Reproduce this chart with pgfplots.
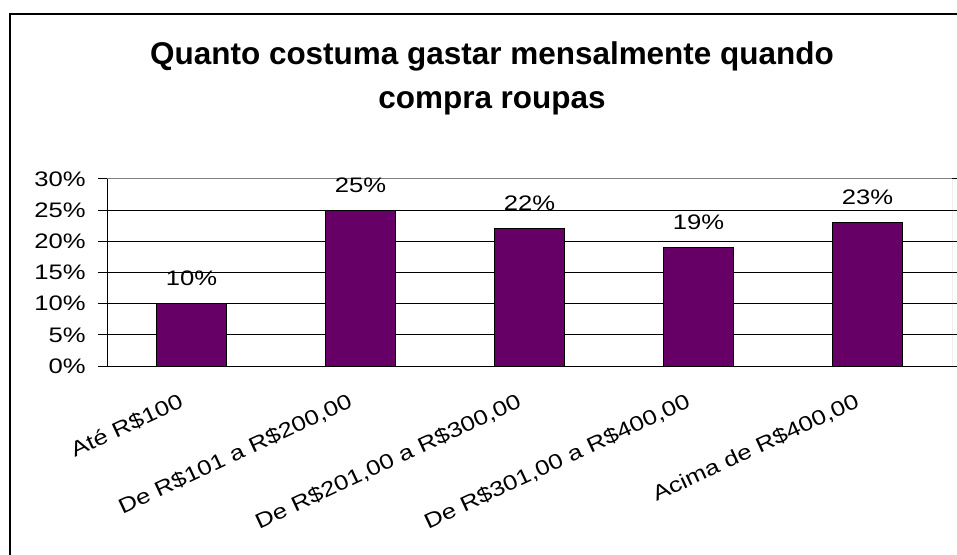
\documentclass[border=0pt]{standalone}
\usepackage{fontspec}
\setmainfont{Liberation Sans}
\newfontfamily\tickfont[FakeStretch=1.22]{Liberation Sans}
\usepackage{pgfplots}
\pgfplotsset{compat=1.18}
\definecolor{barpurple}{HTML}{660066}

\begin{document}
\begin{tikzpicture}[x=0.75pt,y=0.75pt]
  \clip (0,0) rectangle (957,554);
  \draw[line width=1.5pt] (10,-20) -- (10,540) -- (980,540);
  % titulo
  \node[anchor=base, inner sep=0pt, font=\fontsize{23.6}{28}\selectfont\bfseries]
    at (492,489.7) {Quanto costuma gastar mensalmente quando};
  \node[anchor=base, inner sep=0pt, font=\fontsize{23.6}{28}\selectfont\bfseries]
    at (492,445.7) {compra roupas};
  \begin{axis}[
      at={(80.25pt,141pt)}, anchor=south west,
      width=633.75pt, height=140.25pt, scale only axis,
      xmin=-0.5, xmax=4.5, ymin=0, ymax=30,
      ybar, bar width=52.5pt,
      axis line style={draw=none},
      xtick={0,1,2,3,4},
      xticklabels={{Até R\$100},{De R\$101 a R\$200,00},{De R\$201,00 a R\$300,00},{De R\$301,00 a R\$400,00},{Acima de R\$400,00}},
      xtick style={draw=none},
      minor xtick={-0.5,0.5,1.5,2.5,3.5,4.5},
      minor x tick style={black, line width=0.75pt},
      minor tick length=4.5pt,
      ytick={0,5,...,30},
      y tick style={black, line width=0.75pt},
      major tick length=6.75pt,
      tick align=outside,
      ymajorgrids,
      grid style={black, line width=0.75pt},
      /pgf/number format/assume math mode=true,
      yticklabel={\pgfmathprintnumber{\tick}\%},
      yticklabel style={font=\tickfont\fontsize{15.75}{18}\selectfont, anchor=east, inner sep=0pt, xshift=-9pt},
      xticklabel style={font=\tickfont\fontsize{15.75}{18}\selectfont, inner sep=0pt, xshift=-10pt, yshift=-13pt, rotate=25, anchor=north east},
      nodes near coords={\pgfmathprintnumber{\pgfplotspointmeta}\%},
      nodes near coords style={font=\tickfont\fontsize{15.75}{18}\selectfont, anchor=south, inner sep=0pt, yshift=13pt},
    ]
    \addplot[fill=barpurple, draw=black, line width=0.75pt] coordinates {
      (0,10) (1,25) (2,22) (3,19) (4,23)
    };
    \draw[gray, line width=0.75pt] (rel axis cs:0,1) -- (rel axis cs:1,1) -- (rel axis cs:1,0);
    \draw[black, line width=0.75pt] (rel axis cs:0,1) -- (rel axis cs:0,0) -- (rel axis cs:1,0);
  \end{axis}
\end{tikzpicture}
\end{document}
